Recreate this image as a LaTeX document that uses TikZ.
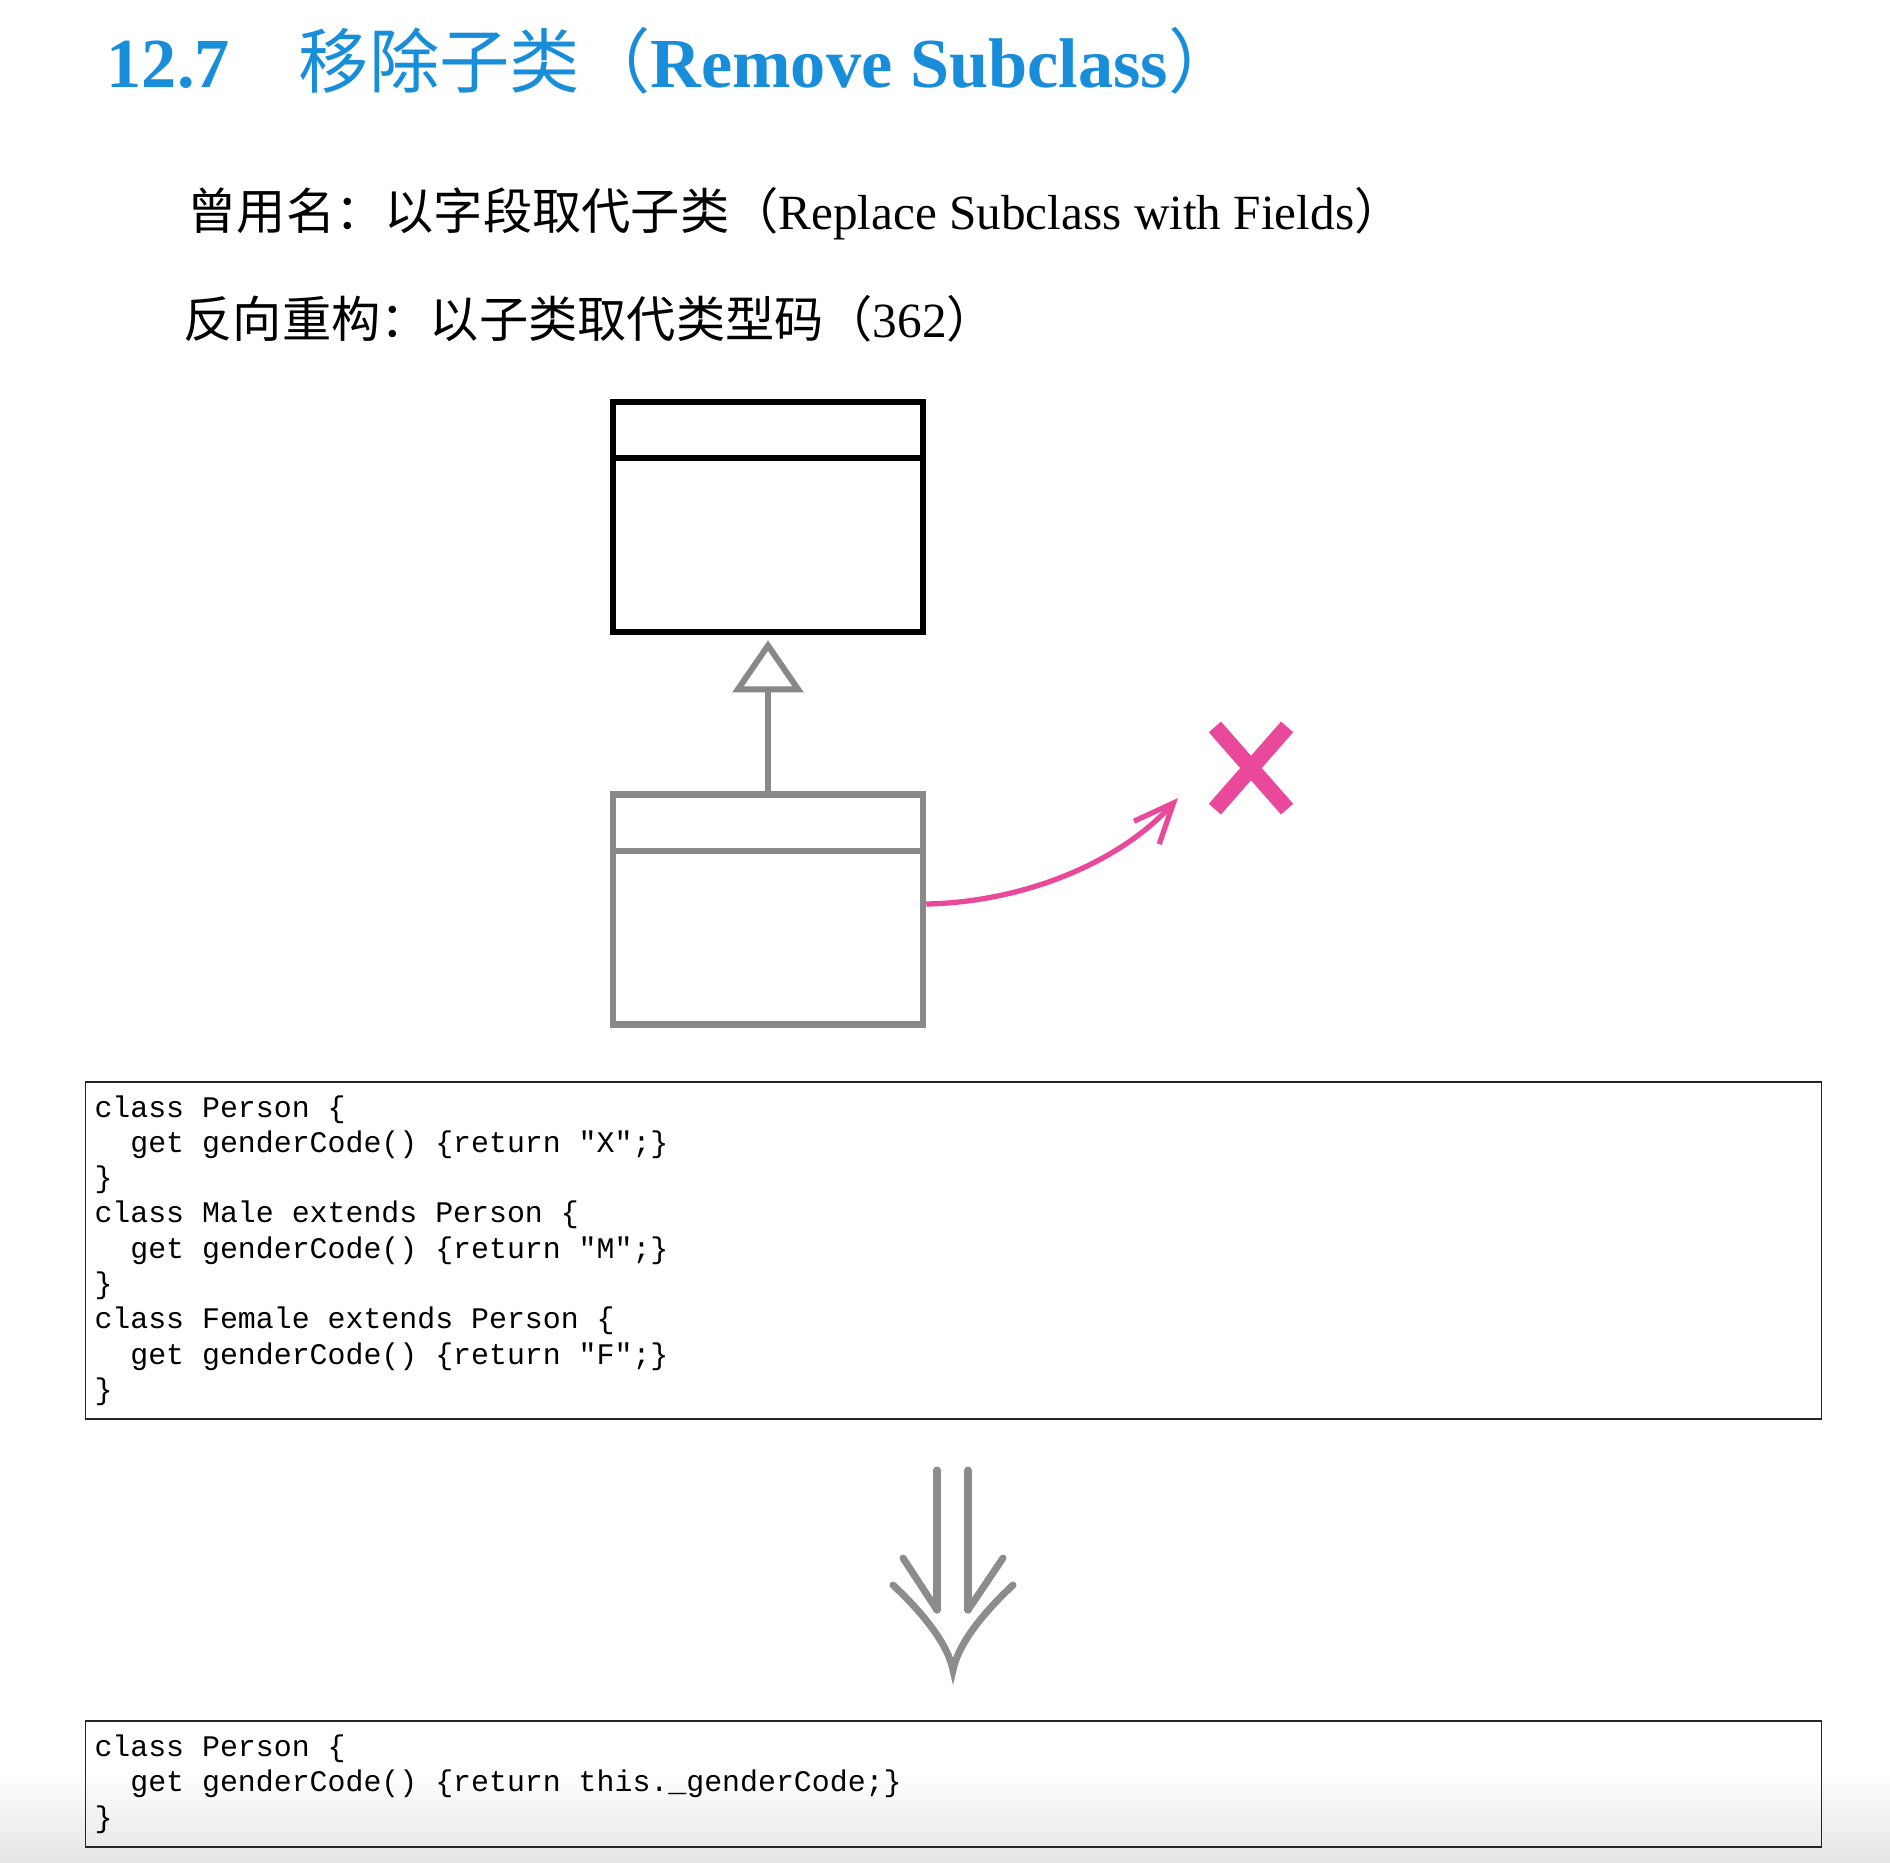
\documentclass[tikz,border=0pt]{standalone}
\usepackage{fontspec}
\setmainfont{Liberation Serif}
\newfontfamily\cjk{Noto Sans CJK SC}
\newfontfamily\codefont{Liberation Mono}
\usetikzlibrary{arrows.meta, shapes.misc}
\definecolor{titleblue}{RGB}{24,142,218}
\definecolor{xpink}{RGB}{234,72,155}
\definecolor{subgray}{RGB}{136,136,136}
\definecolor{arrowgray}{RGB}{140,140,140}

\begin{document}
\begin{tikzpicture}[x=0.01cm, y=-0.01cm,
        classbox/.style={rectangle, minimum width=3.1cm, minimum height=2.3cm, line width=1.8pt},
        codebox/.style={rectangle, draw=black!85, line width=0.45pt, minimum width=17.35cm,
            text width=17.17cm, inner xsep=0.09cm, inner ysep=0pt, align=left,
            font=\codefont\fontsize{8.5pt}{10.04pt}\selectfont,
            execute at begin node={\spaceskip=0pt\xspaceskip=0pt}},
        heading/.style={anchor=base west, inner sep=0pt},
        bigarrow/.style={arrowgray, line width=2pt, line cap=round}]
        \useasboundingbox (0,0) rectangle (1890,1862);
        \fill[white] (0,0) rectangle (1890,1862);
        \shade[top color=white, bottom color=black!10] (0,1770) rectangle (1890,1862);

        % Headings
        \node[heading, text=titleblue, font=\fontsize{20pt}{24pt}\selectfont\bfseries] (secnum) at (106,87) {12.7};
        \node[heading, text=titleblue, font=\fontsize{20pt}{24pt}\selectfont] (sectitle) at (298,87) {{\cjk 移除子类（}\textbf{Remove Subclass}{\cjk ）}};
        \node[heading, font=\fontsize{14pt}{17pt}\selectfont] (alias) at (187,229) {{\cjk 曾用名：以字段取代子类（}Replace Subclass with Fields{\cjk ）}};
        \node[heading, font=\fontsize{14pt}{17pt}\selectfont] (inverse) at (183,337) {{\cjk 反向重构：以子类取代类型码（}362{\cjk ）}};

        % Classes
        \node[classbox, draw=black] (person) at (768,517) {};
        \draw[line width=1.8pt] ([yshift=-0.59cm]person.north west) -- ([yshift=-0.59cm]person.north east);
        \node[classbox, draw=subgray] (subclass) at (768,909.5) {};
        \draw[subgray, line width=1.8pt] ([yshift=-0.6cm]subclass.north west) -- ([yshift=-0.6cm]subclass.north east);

        % Edges
        \draw[subgray, line width=1.6pt, shorten >=0.05cm,
            -{Triangle[open, length=0.52cm, width=0.7cm, line width=1.7pt]}] (subclass) -- (person);
        \coordinate (gone) at (1178,798);
        \draw[xpink, line width=1.5pt, -{Straight Barb[length=0.4cm, width=0.34cm]}]
            ([yshift=0.055cm]subclass.east) .. controls (1025,902) and (1120,862) .. (gone);
        \node[cross out, draw=xpink, line width=4.6pt, minimum width=0.56cm, minimum height=0.66cm, inner sep=0pt] (xmark) at (1251,768) {};

        % Code
        \node[codebox, minimum height=3.37cm] (before) at (953.5,1250.5) {%
            class Person \{\\
            \ \ get genderCode() \{return "X";\}\\
            \}\\
            class Male extends Person \{\\
            \ \ get genderCode() \{return "M";\}\\
            \}\\
            class Female extends Person \{\\
            \ \ get genderCode() \{return "F";\}\\
            \}};

        \draw[bigarrow] (937,1470) -- (937,1610);
        \draw[bigarrow] (968,1470) -- (968,1610);
        \draw[bigarrow] (903,1558) -- (937,1610);
        \draw[bigarrow] (1003,1558) -- (968,1610);
        \draw[bigarrow] (893,1585) .. controls (925,1615) and (948,1645) .. (953,1670)
            .. controls (958,1645) and (981,1615) .. (1013,1585);

        \node[codebox, minimum height=1.26cm] (after) at (953.5,1784) {%
            class Person \{\\
            \ \ get genderCode() \{return this.\_genderCode;\}\\
            \}};
\end{tikzpicture}
\end{document}
